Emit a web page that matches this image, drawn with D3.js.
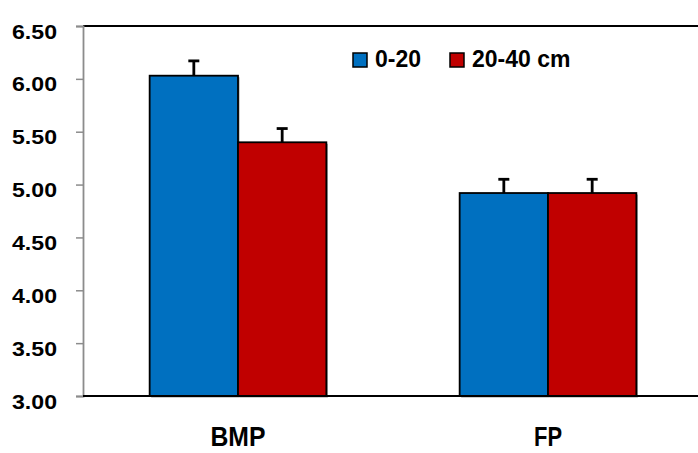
<!DOCTYPE html>
<html>
<head>
<meta charset="utf-8">
<script src="https://cdn.jsdelivr.net/npm/d3@7"></script>
<style>
  html, body { margin: 0; padding: 0; background: #fff; }
  svg { display: block; }
</style>
</head>
<body>
<svg id="chart" width="698" height="453"></svg>
<script>
// ---- data ----
const categories = ["BMP", "FP"];
const seriesNames = ["0-20", "20-40 cm"];
const seriesColors = ["#0070C0", "#C00000"];
const values0to20 = [6.03, 4.92];
const values20to40 = [5.40, 4.92];
const errors0to20 = [0.14, 0.13];
const errors20to40 = [0.13, 0.13];
const yTicks = [3.0, 3.5, 4.0, 4.5, 5.0, 5.5, 6.0, 6.5];

const seriesValues = [values0to20, values20to40];
const seriesErrors = [errors0to20, errors20to40];

const svg = d3.select("#chart");
const plotLeft = 83, plotRight = 703, plotTop = 26, plotBottom = 396;

const x0 = d3.scaleBand().domain(categories).range([plotLeft, plotRight])
  .paddingInner(0.43).paddingOuter(0.215);
const x1 = d3.scaleBand().domain(seriesNames).range([0, x0.bandwidth()]).padding(0);
const y = d3.scaleLinear().domain([3, 6.5]).range([plotBottom, plotTop]);

const data = [];
categories.forEach((c, ci) => {
  seriesNames.forEach((s, si) => {
    data.push({cat: c, ser: s, si, v: seriesValues[si][ci], e: seriesErrors[si][ci]});
  });
});

// top frame line
svg.append("line").attr("x1", plotLeft).attr("x2", 698).attr("y1", plotTop).attr("y2", plotTop)
  .attr("stroke", "#000").attr("stroke-width", 1.8);

// bar shadows
svg.append("g").selectAll("rect").data(data).join("rect")
  .attr("x", d => x0(d.cat) + x1(d.ser) + 1.5)
  .attr("y", d => y(d.v) + 1.5)
  .attr("width", x1.bandwidth())
  .attr("height", d => y(3) - y(d.v))
  .attr("fill", "#9a9a9a");

// bars
svg.append("g").selectAll("rect").data(data).join("rect")
  .attr("x", d => x0(d.cat) + x1(d.ser))
  .attr("y", d => y(d.v))
  .attr("width", x1.bandwidth())
  .attr("height", d => y(3) - y(d.v))
  .attr("fill", d => seriesColors[d.si])
  .attr("stroke", "#000").attr("stroke-width", 1.8);

// error bars (upper only)
const eg = svg.append("g").attr("stroke", "#000").attr("stroke-width", 2.8);
data.forEach(d => {
  const cx = x0(d.cat) + x1(d.ser) + x1.bandwidth() / 2;
  eg.append("line").attr("x1", cx).attr("x2", cx).attr("y1", y(d.v)).attr("y2", y(d.v + d.e));
  eg.append("line").attr("x1", cx - 5.5).attr("x2", cx + 5.5).attr("y1", y(d.v + d.e)).attr("y2", y(d.v + d.e));
});

// y axis
const yAxis = d3.axisLeft(y).tickValues(yTicks).tickFormat(d3.format(".2f")).tickSize(7).tickPadding(19);
const ya = svg.append("g").attr("transform", `translate(${plotLeft},0)`).call(yAxis);
ya.select(".domain").attr("stroke", "#8c8c8c").attr("stroke-width", 1.8);
ya.selectAll(".tick line").attr("stroke", "#8c8c8c").attr("stroke-width", 1.5);
ya.selectAll(".tick text")
  .attr("font-family", "'Liberation Sans', Arial, sans-serif")
  .attr("font-weight", "bold").attr("font-size", 20).attr("fill", "#000")
  .attr("dy", "0.6em")
  .attr("textLength", 45).attr("lengthAdjust", "spacingAndGlyphs");

// bottom axis line
svg.append("line").attr("x1", plotLeft).attr("x2", 698).attr("y1", plotBottom).attr("y2", plotBottom)
  .attr("stroke", "#000").attr("stroke-width", 1.8);

// category labels
svg.append("g").selectAll("text").data(categories).join("text")
  .attr("x", d => x0(d) + x0.bandwidth() / 2)
  .attr("y", 446)
  .attr("text-anchor", "middle")
  .attr("font-family", "'Liberation Sans', Arial, sans-serif")
  .attr("font-weight", "bold").attr("font-size", 28)
  .attr("textLength", d => d.length === 3 ? 55 : 28)
  .attr("lengthAdjust", "spacingAndGlyphs")
  .text(d => d);

// legend
const legendX = [353, 450];
const lg = svg.append("g");
seriesNames.forEach((s, i) => {
  lg.append("rect").attr("x", legendX[i]).attr("y", 53).attr("width", 14).attr("height", 14)
    .attr("fill", seriesColors[i]).attr("stroke", "#000").attr("stroke-width", 1.5);
  lg.append("text").attr("x", legendX[i] + 22).attr("y", 67)
    .attr("font-family", "'Liberation Sans', Arial, sans-serif")
    .attr("font-weight", "bold").attr("font-size", 23)
    .text(s);
});
</script>
</body>
</html>
